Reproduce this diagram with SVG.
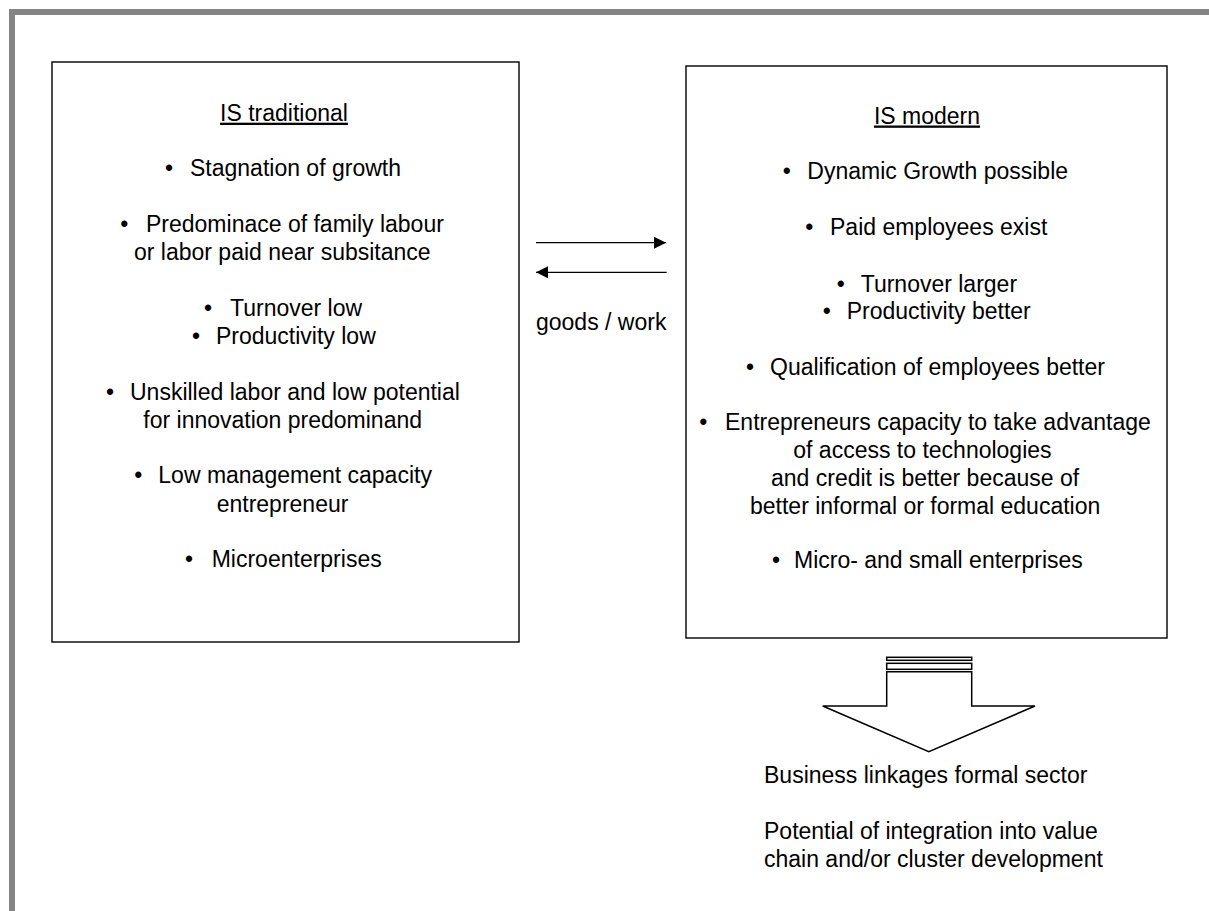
<svg xmlns="http://www.w3.org/2000/svg" width="1209" height="911" viewBox="0 0 1209 911">
<defs>
<style>
text{font-family:"Liberation Sans",Arial,sans-serif;font-size:23px;fill:#000}
.b{text-anchor:middle}
.t{text-anchor:middle;text-decoration:underline}
.box{fill:#fff;stroke:#000;stroke-width:1.4}
.ln{stroke:#000;stroke-width:1.3;fill:none}
.blk{fill:#fff;stroke:#000;stroke-width:1.5;stroke-linejoin:miter}
</style>
<marker id="ah" viewBox="0 0 10 10" refX="10" refY="5" markerUnits="userSpaceOnUse" markerWidth="14" markerHeight="12" orient="auto">
<path d="M0,0 L10,5 L0,10 Z" fill="#000"/>
</marker>
</defs>
<rect width="1209" height="911" fill="#fff"/>
<path d="M12,911 V12 H1209" fill="none" stroke="#848484" stroke-width="6"/>

<g id="is-traditional">
<rect class="box" x="52" y="62" width="467" height="580"/>
<text class="t" x="284" y="120.7">IS traditional</text>
<text class="b" x="169" y="176">•</text><text x="190" y="176">Stagnation of growth</text>
<text class="b" x="124.3" y="231.7">•</text><text x="146" y="231.7">Predominace of family labour</text>
<text x="134" y="260">or labor paid near subsitance</text>
<text class="b" x="208" y="315.7">•</text><text x="230" y="315.7">Turnover low</text>
<text class="b" x="196" y="344">•</text><text x="216" y="344">Productivity low</text>
<text class="b" x="110" y="400">•</text><text x="130" y="400">Unskilled labor and low potential</text>
<text x="143.3" y="428.3">for innovation predominand</text>
<text class="b" x="138.3" y="483.3">•</text><text x="158.3" y="483.3">Low management capacity</text>
<text x="216.7" y="511.7">entrepreneur</text>
<text class="b" x="189" y="566.7">•</text><text x="211.7" y="566.7">Microenterprises</text>
</g>

<g id="is-modern">
<rect class="box" x="686" y="66" width="481" height="572"/>
<text class="t" x="927" y="123.5">IS modern</text>
<text class="b" x="786.7" y="179.3">•</text><text x="807.3" y="179.3">Dynamic Growth possible</text>
<text class="b" x="809.3" y="235">•</text><text x="830" y="235">Paid employees exist</text>
<text class="b" x="840.7" y="291.7">•</text><text x="860.7" y="291.7">Turnover larger</text>
<text class="b" x="826.7" y="319.3">•</text><text x="846.7" y="319.3">Productivity better</text>
<text class="b" x="750" y="375">•</text><text x="770" y="375">Qualification of employees better</text>
<text class="b" x="703.3" y="430">•</text><text x="725" y="430">Entrepreneurs capacity to take advantage</text>
<text x="793.3" y="458.3">of access to technologies</text>
<text x="771" y="486">and credit is better because of</text>
<text x="750" y="514">better informal or formal education</text>
<text class="b" x="776" y="568.3">•</text><text x="794" y="568.3">Micro- and small enterprises</text>
</g>

<g id="connectors">
<line class="ln" x1="536" y1="242.7" x2="666" y2="242.7" marker-end="url(#ah)"/>
<line class="ln" x1="666.7" y1="272.3" x2="536" y2="272.3" marker-end="url(#ah)"/>
<text x="536" y="330">goods / work</text>
</g>

<g id="block-arrow">
<rect class="blk" x="886.7" y="657.3" width="85" height="3"/>
<rect class="blk" x="886.7" y="663.3" width="85" height="6"/>
<path class="blk" d="M886.7,671.7 H971.7 V706 H1035 L928.8,751.7 L822.7,706 H886.7 Z"/>
</g>

<g id="outcome">
<text x="764" y="783.3">Business linkages formal sector</text>
<text x="764" y="839.3">Potential of integration into value</text>
<text x="764" y="867.3">chain and/or cluster development</text>
</g>
</svg>
